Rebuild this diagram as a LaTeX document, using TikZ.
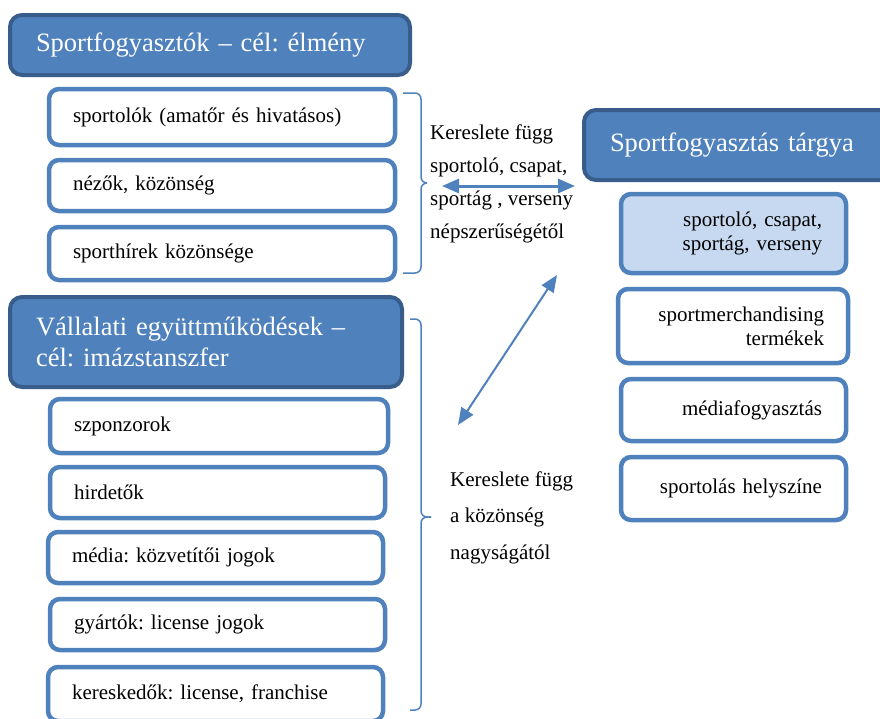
\documentclass[tikz,border=0pt]{standalone}
\usepackage{fontspec}
\setmainfont{Liberation Serif}
\frenchspacing
\usetikzlibrary{positioning, arrows.meta}
\definecolor{accblue}{HTML}{4F81BD}
\definecolor{darkblue}{HTML}{385D8A}
\definecolor{lightblue}{HTML}{C6D9F1}

\begin{document}
\begin{tikzpicture}[x=1pt, y=-1pt,
    header/.style={rectangle, draw=darkblue, fill=accblue, line width=4pt, rounded corners=12pt,
                   text=white, font=\fontsize{26.5}{31}\selectfont, align=left, inner xsep=26pt},
    item/.style={rectangle, draw=accblue, fill=white, line width=4.5pt, rounded corners=10pt,
                 font=\fontsize{21}{24}\selectfont, align=left, inner xsep=24pt},
    object/.style={item, align=right, text width=177pt},
    note/.style={align=left, inner sep=0pt, anchor=north west},
    brace/.style={draw=accblue, line width=1.5pt, rounded corners=6pt},
    arrow/.style={{Triangle[length=17pt, width=14pt]}-{Triangle[length=17pt, width=14pt]},
                  draw=accblue}
]
    \useasboundingbox (0,0) rectangle (880,718);
    \clip (0,0) rectangle (880,718);

    % Sportfogyasztok
    \node[header, text width=348pt, minimum height=60pt] (fogy) at (210,45) {\raisebox{-2pt}{Sportfogyasztók – cél: élmény}};
    \node[item, text width=298pt, minimum height=56pt] (sportolok) at (222,117) {sportolók (amatőr és hivatásos)};
    \node[item, text width=298pt, minimum height=51pt] (nezok) at (222,185.5) {nézők, közönség};
    \node[item, text width=298pt, minimum height=53pt] (hirek) at (222,253.5) {sporthírek közönsége};

    % Vallalati egyuttmukodesek
    \node[header, text width=340pt, minimum height=90pt] (vall) at (206,342) {Vállalati együttműködések –\\cél: imázstanszfer};
    \node[item, text width=290pt, minimum height=54pt] (szponz) at (219,426) {szponzorok};
    \node[item, text width=287pt, minimum height=51pt] (hirdet) at (217.5,492.5) {hirdetők};
    \node[item, text width=287pt, minimum height=51pt] (media) at (215.5,557.5) {média: közvetítői jogok};
    \node[item, text width=287pt, minimum height=51pt] (gyart) at (217.5,624.5) {gyártók: license jogok};
    \node[item, text width=287pt, minimum height=54pt] (keresk) at (215.5,694) {kereskedők: license, franchise};

    % Sportfogyasztas targya
    \node[header, text width=258pt, minimum height=70pt] (targy) at (739,145) {Sportfogyasztás tárgya};
    \node[object, fill=lightblue, minimum height=79pt] (csapat) at (733.5,233.5) {sportoló, csapat,\\sportág, verseny};
    \node[object, text width=182pt, minimum height=74pt] (merch) at (733,326) {sportmerchandising\\termékek};
    \node[object, minimum height=62pt] (mediaf) at (733.5,410) {médiafogyasztás};
    \node[object, minimum height=63pt] (helysz) at (733.5,488.5) {sportolás helyszíne};

    % braces
    \draw[brace] (403,93) -- (421,93) -- (421,183) -- (427,183);
    \draw[brace] (427,183) -- (421,183) -- (421,273) -- (403,273);
    \draw[brace] (410,319) -- (421,319) -- (421,517) -- (431,517);
    \draw[brace] (431,517) -- (421,517) -- (421,710) -- (410,710);

    % notes
    \node[note, font=\fontsize{21}{32.7}\selectfont] (nep) at (430,125) {Kereslete függ\\sportoló, csapat,\\sportág , verseny\\népszerűségétől};
    \node[note, font=\fontsize{21}{36.5}\selectfont] (nagys) at (450,471.5) {Kereslete függ\\a közönség\\nagyságától};

    % arrows
    \coordinate (h1) at (442,186);
    \coordinate (h2) at (575,186);
    \coordinate (d1) at (458,425);
    \coordinate (d2) at (557,275);
    \draw[arrow, line width=3pt] (h1) -- (h2);
    \draw[arrow, line width=2pt] (d1) -- (d2);

\end{tikzpicture}
\end{document}
